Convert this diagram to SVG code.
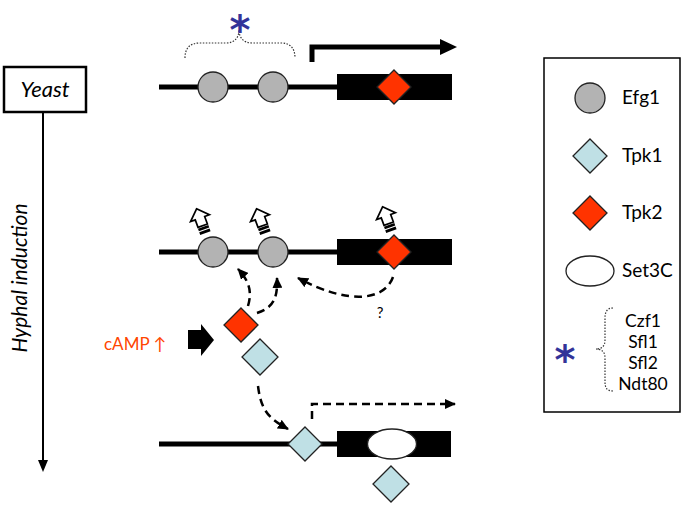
<svg xmlns="http://www.w3.org/2000/svg" width="685" height="506" viewBox="0 0 685 506">
<style>
.t{font-family:Lato,"Open Sans","Liberation Sans",sans-serif;font-size:19px;fill:#000}
.l{font-family:Lato,"Open Sans","Liberation Sans",sans-serif;font-size:17.5px;fill:#000;text-anchor:middle}
.dna{stroke:#000;stroke-width:5;fill:none}
.box{fill:#000}
.efg{fill:#b3b3b3;stroke:#222;stroke-width:1.3}
.tpk1{fill:#bfe0e5;stroke:#222;stroke-width:1.3}
.tpk2{fill:#ff3300;stroke:#222;stroke-width:1.3}
.set3{fill:#fff;stroke:#222;stroke-width:1.3}
.dash{stroke:#000;stroke-width:2.5;fill:none;stroke-dasharray:8 5}
.dot{stroke:#333;stroke-width:1.2;fill:none;stroke-dasharray:1.5 1.5}
.ast{font-family:"DejaVu Sans",sans-serif;font-weight:bold;fill:#333399;font-size:40px}
</style>
<defs>
<marker id="ah" markerWidth="11" markerHeight="10" refX="10" refY="5" orient="auto" markerUnits="userSpaceOnUse">
<path d="M0,0 L11,5 L0,10 Z" fill="#000"/>
</marker>
<g id="pa">
<polygon points="0,-13 10,-3 5,-3 5,5 -5,5 -5,-3 -10,-3" fill="#fff" stroke="#000" stroke-width="1.7"/>
<rect x="-5.5" y="6.2" width="11" height="2.8" fill="#000"/>
<rect x="-5.5" y="10" width="11" height="2.8" fill="#000"/>
</g>
</defs>

<g id="timeline">
<rect x="4" y="67" width="82" height="45" fill="#fff" stroke="#000" stroke-width="2.5"/>
<text class="t" x="45" y="97" text-anchor="middle" style="font-style:italic;font-size:22px">Yeast</text>
<line x1="43" y1="112" x2="43" y2="462" stroke="#000" stroke-width="2"/>
<polygon points="38,460 48,460 43,472" fill="#000"/>
<text class="t" transform="translate(27,278) rotate(-90)" text-anchor="middle" style="font-style:italic;font-size:21px">Hyphal induction</text>
</g>

<g id="row1">
<line class="dna" x1="159" y1="87" x2="340" y2="87"/>
<rect class="box" x="337" y="74" width="115" height="26"/>
<circle class="efg" cx="213" cy="87" r="15"/>
<circle class="efg" cx="273" cy="87" r="15"/>
<polygon class="tpk2" points="394,70 411,87 394,104 377,87"/>
<path class="dot" d="M185 58 C185 48 190 43 200 43 L226 43 C234 43 239 38 239 30 C239 38 244 43 252 43 L281 43 C290 43 295 48 295 58"/>
<text class="ast" x="240" y="44" text-anchor="middle">*</text>
<polyline points="312,62 312,47 442,47" fill="none" stroke="#000" stroke-width="5"/>
<polygon points="440,39 457,47 440,55" fill="#000"/>
</g>

<g id="row2">
<line class="dna" x1="159" y1="252" x2="340" y2="252"/>
<rect class="box" x="337" y="239" width="115" height="26"/>
<circle class="efg" cx="213" cy="252" r="15"/>
<circle class="efg" cx="273" cy="252" r="15"/>
<polygon class="tpk2" points="394,235 411,252 394,269 377,252"/>
<use href="#pa" transform="translate(201,221) rotate(-20)"/>
<use href="#pa" transform="translate(261,221) rotate(-20)"/>
<use href="#pa" transform="translate(387,219) rotate(-20)"/>
</g>

<g id="camp">
<text class="t" x="104" y="350" style="fill:#ff4500;font-size:17px">cAMP ↑</text>
<polygon points="188,330 201,330 201,324 214,340 201,356 201,349 188,349" fill="#000"/>
<polygon class="tpk2" points="241,308 258,325 241,342 224,325"/>
<polygon class="tpk1" points="260,339 278,357 260,375 242,357"/>
</g>

<g id="row3">
<line class="dna" x1="159" y1="444" x2="340" y2="444"/>
<rect class="box" x="337" y="431" width="114" height="26"/>
<ellipse class="set3" cx="392" cy="444" rx="24.5" ry="15"/>
<polygon class="tpk1" points="305,427 322,444 305,461 288,444"/>
<polygon class="tpk1" points="391,466 409,484 391,502 373,484"/>
</g>

<g id="connectors">
<path class="dash" d="M248 306 C252 292 250 282 238 269" marker-end="url(#ah)"/>
<path class="dash" d="M257 313 C272 308 278 300 277 278" marker-end="url(#ah)"/>
<path class="dash" d="M393 277 C385 300 350 306 298 278" marker-end="url(#ah)"/>
<text class="t" x="380" y="318" text-anchor="middle" style="font-size:15px">?</text>
<path class="dash" d="M258 386 C261 410 268 418 288 429" marker-end="url(#ah)"/>
<polyline class="dash" points="312,419 312,404 455,404" marker-end="url(#ah)"/>
</g>

<g id="legend">
<rect x="544" y="58" width="136" height="354" fill="#fff" stroke="#000" stroke-width="1.5"/>
<circle class="efg" cx="590" cy="98" r="15"/>
<text class="t" x="622" y="104">Efg1</text>
<polygon class="tpk1" points="590,139 607,156 590,173 573,156"/>
<text class="t" x="622" y="162">Tpk1</text>
<polygon class="tpk2" points="590,196 607,213 590,230 573,213"/>
<text class="t" x="622" y="219">Tpk2</text>
<ellipse class="set3" cx="590" cy="271" rx="24" ry="15"/>
<text class="t" x="622" y="277">Set3C</text>
<path class="dot" d="M613 308 C607 308 605 312 605 318 L605 340 C605 346 602 349 596 349 C602 349 605 352 605 358 L605 382 C605 388 607 391 613 391"/>
<text class="ast" x="565" y="374" text-anchor="middle">*</text>
<text class="l" x="643" y="327">Czf1</text>
<text class="l" x="643" y="348">Sfl1</text>
<text class="l" x="643" y="369">Sfl2</text>
<text class="l" x="643" y="390">Ndt80</text>
</g>
</svg>
